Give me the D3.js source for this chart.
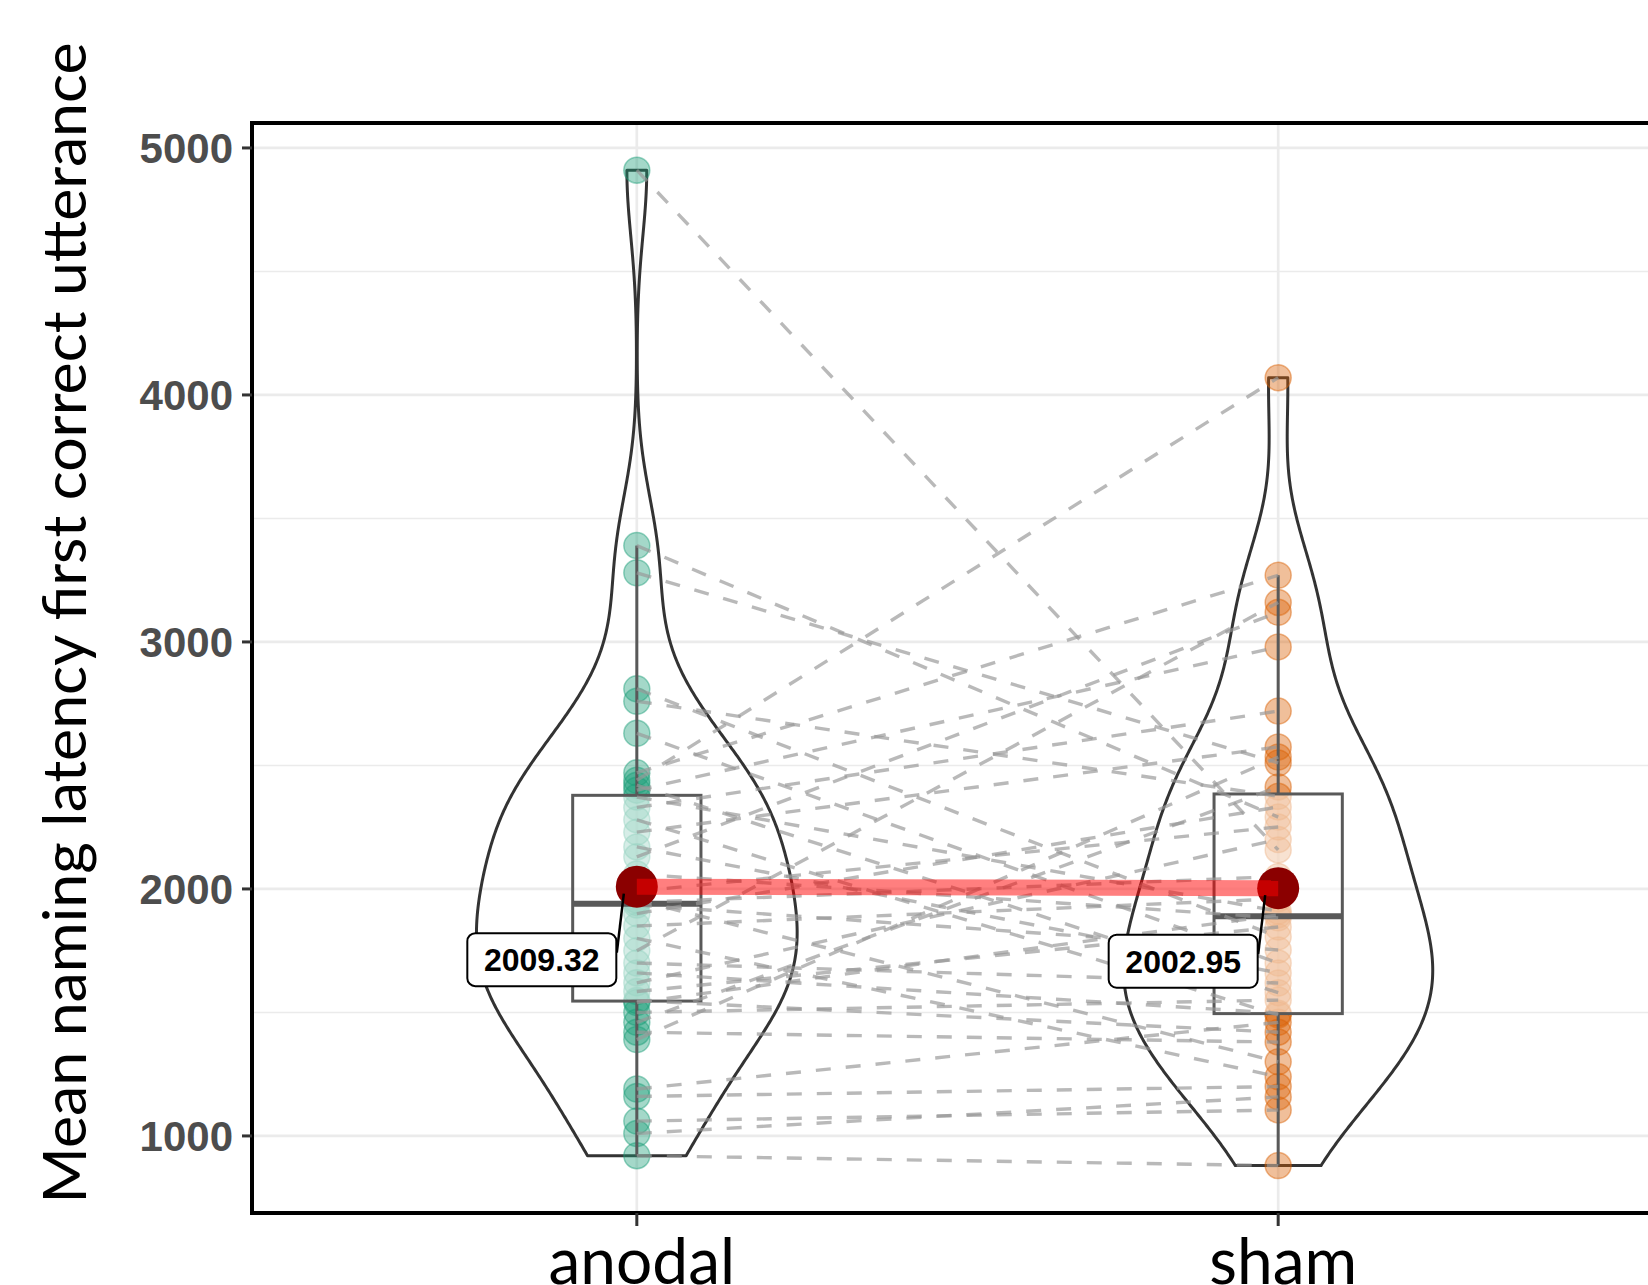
<!DOCTYPE html>
<html>
<head>
<meta charset="utf-8">
<script src="https://cdn.jsdelivr.net/npm/d3@7"></script>
<style>
  html, body { margin: 0; padding: 0; background: #fff; }
  svg { display: block; }
</style>
</head>
<body>
<svg id="chart" width="1648" height="1285"></svg>
<script>
// ---------------- data ----------------
const categories = ["anodal", "sham"];
// paired participants (same index = same participant)
const anodal = [4910, 3390, 3280, 2810, 2760, 2630, 2470, 2440, 2420, 2400,
                2372, 2330, 2280, 2230, 2170, 2130, 2060, 1990, 1955, 1945,
                1935, 1900, 1850, 1800, 1750, 1700, 1660, 1620, 1585, 1548,
                1540, 1500, 1460, 1420, 1390, 1190, 1160, 1060, 1010, 920];
const sham   = [2158, 2291, 2510, 1806, 2375, 1700, 3270, 4070, 1580, 2980,
                1910, 2720, 1490, 2575, 1660, 3120, 1883, 2251, 1300, 2050,
                1753, 2332, 1960, 1240, 3160, 1619, 1497, 2200, 1846, 1420,
                1895, 1550, 2413, 1380, 2534, 1460, 1200, 1105, 1158, 880];
const meanValues = [2009.32, 2002.95];
const meanLabels = ["2009.32", "2002.95"];
const yTicks = [1000, 2000, 3000, 4000, 5000];
const yTitle = "Mean naming latency first correct utterance";
const groupColors = ["#1b9e77", "#d95f02"];

// ---------------- layout ----------------
const svg = d3.select("#chart");
const panel = { left: 252, top: 123, right: 1663, bottom: 1213 };
const x = d3.scaleLinear().domain([0.4, 2.6]).range([panel.left, panel.right]);
const y = d3.scaleLinear().domain([688, 5101]).range([panel.bottom, panel.top]);
const groups = [anodal, sham];
const pos = [1, 2];

const defs = svg.append("defs");
defs.append("clipPath").attr("id", "clip")
  .append("rect").attr("x", panel.left).attr("y", panel.top)
  .attr("width", panel.right - panel.left).attr("height", panel.bottom - panel.top);

// grid
const grid = svg.append("g");
const minor = d3.pairs(yTicks).map(([a, b]) => (a + b) / 2);
grid.selectAll(".minor").data(minor).join("line")
  .attr("x1", panel.left).attr("x2", panel.right)
  .attr("y1", d => y(d)).attr("y2", d => y(d))
  .attr("stroke", "#ebebeb").attr("stroke-width", 1.4);
grid.selectAll(".major").data(yTicks).join("line")
  .attr("x1", panel.left).attr("x2", panel.right)
  .attr("y1", d => y(d)).attr("y2", d => y(d))
  .attr("stroke", "#ebebeb").attr("stroke-width", 2.7);
grid.selectAll(".vmajor").data(pos).join("line")
  .attr("x1", d => x(d)).attr("x2", d => x(d))
  .attr("y1", panel.top).attr("y2", panel.bottom)
  .attr("stroke", "#ebebeb").attr("stroke-width", 2.7);

const plot = svg.append("g").attr("clip-path", "url(#clip)");

// ---------------- violins ----------------
function bwNrd0(v) {
  const s = v.slice().sort(d3.ascending);
  const sd = d3.deviation(s);
  const iqr = d3.quantile(s, 0.75) - d3.quantile(s, 0.25);
  const lo = Math.min(sd, iqr / 1.34);
  return 0.9 * lo * Math.pow(s.length, -0.2);
}
function kde(v, n) {
  const bw = bwNrd0(v);
  const lo = d3.min(v), hi = d3.max(v);
  const out = [];
  for (let i = 0; i < n; i++) {
    const t = lo + (hi - lo) * i / (n - 1);
    let s = 0;
    for (const xi of v) { const z = (t - xi) / bw; s += Math.exp(-0.5 * z * z); }
    out.push([t, s / (v.length * bw * Math.sqrt(2 * Math.PI))]);
  }
  return out;
}
const dens = groups.map(g => kde(g, 512));
const maxDens = d3.max(dens, d => d3.max(d, e => e[1]));
const violinWidth = 0.5;
dens.forEach((d, i) => {
  const cx = pos[i];
  const left = d.map(([t, v]) => [x(cx - v / maxDens * violinWidth / 2), y(t)]);
  const right = d.map(([t, v]) => [x(cx + v / maxDens * violinWidth / 2), y(t)]).reverse();
  plot.append("path")
    .attr("d", d3.line()(left.concat(right)) + "Z")
    .attr("fill", "none").attr("stroke", "#333333").attr("stroke-width", 3)
    .attr("stroke-linejoin", "round");
});

// ---------------- points ----------------
groups.forEach((g, i) => {
  plot.append("g").selectAll("circle").data(g).join("circle")
    .attr("cx", x(pos[i])).attr("cy", d => y(d)).attr("r", 13)
    .attr("fill", groupColors[i]).attr("fill-opacity", 0.4)
    .attr("stroke", groupColors[i]).attr("stroke-opacity", 0.45).attr("stroke-width", 1.5);
});

// ---------------- boxplots ----------------
const boxHalf = 0.1;
groups.forEach((g, i) => {
  const s = g.slice().sort(d3.ascending);
  const q1 = d3.quantile(s, 0.25), med = d3.quantile(s, 0.5), q3 = d3.quantile(s, 0.75);
  const iqr = q3 - q1;
  const upper = d3.max(s.filter(v => v <= q3 + 1.5 * iqr));
  const lower = d3.min(s.filter(v => v >= q1 - 1.5 * iqr));
  const cx = pos[i];
  const b = plot.append("g");
  b.append("line").attr("x1", x(cx)).attr("x2", x(cx)).attr("y1", y(q3)).attr("y2", y(upper))
    .attr("stroke", "#595959").attr("stroke-width", 3);
  b.append("line").attr("x1", x(cx)).attr("x2", x(cx)).attr("y1", y(q1)).attr("y2", y(lower))
    .attr("stroke", "#595959").attr("stroke-width", 3);
  b.append("rect").attr("x", x(cx - boxHalf)).attr("y", y(q3))
    .attr("width", x(cx + boxHalf) - x(cx - boxHalf)).attr("height", y(q1) - y(q3))
    .attr("fill", "#ffffff").attr("fill-opacity", 0.55)
    .attr("stroke", "#595959").attr("stroke-width", 3);
  b.append("line").attr("x1", x(cx - boxHalf)).attr("x2", x(cx + boxHalf))
    .attr("y1", y(med)).attr("y2", y(med))
    .attr("stroke", "#595959").attr("stroke-width", 6);
});

// ---------------- paired dashed lines ----------------
plot.append("g").selectAll("line").data(d3.zip(anodal, sham)).join("line")
  .attr("x1", x(1)).attr("y1", d => y(d[0]))
  .attr("x2", x(2)).attr("y2", d => y(d[1]))
  .attr("stroke", "#989898").attr("stroke-opacity", 0.68)
  .attr("stroke-width", 3.4).attr("stroke-dasharray", "15,15");

// ---------------- means ----------------
plot.selectAll(".mean").data(meanValues).join("circle")
  .attr("cx", (d, i) => x(pos[i])).attr("cy", d => y(d)).attr("r", 21)
  .attr("fill", "#8b0000");
plot.append("line")
  .attr("x1", x(pos[0])).attr("y1", y(meanValues[0]))
  .attr("x2", x(pos[1])).attr("y2", y(meanValues[1]))
  .attr("stroke", "#ff0000").attr("stroke-opacity", 0.5).attr("stroke-width", 16);

// labels
meanValues.forEach((m, i) => {
  const cx = x(pos[i]), cy = y(m);
  const lx = cx - 95, ly = cy + 73;
  const w = 149, h = 53;
  svg.append("line")
    .attr("x1", cx - 20).attr("y1", cy + 66)
    .attr("x2", cx - 13).attr("y2", cy + 7)
    .attr("stroke", "#000").attr("stroke-width", 2.5);
  svg.append("rect").attr("x", lx - w / 2).attr("y", ly - h / 2)
    .attr("width", w).attr("height", h).attr("rx", 8)
    .attr("fill", "#fff").attr("stroke", "#000").attr("stroke-width", 2);
  svg.append("text").attr("x", lx).attr("y", ly).attr("dy", "0.36em")
    .attr("text-anchor", "middle")
    .attr("font-family", "'Liberation Sans', Arial, sans-serif")
    .attr("font-weight", "bold").attr("font-size", 32).attr("fill", "#000")
    .text(meanLabels[i]);
});

// ---------------- axes / border ----------------
svg.append("rect").attr("x", panel.left).attr("y", panel.top)
  .attr("width", panel.right - panel.left).attr("height", panel.bottom - panel.top)
  .attr("fill", "none").attr("stroke", "#000").attr("stroke-width", 4);

const yAxis = svg.append("g");
yAxis.selectAll("line").data(yTicks).join("line")
  .attr("x1", panel.left - 10).attr("x2", panel.left)
  .attr("y1", d => y(d)).attr("y2", d => y(d))
  .attr("stroke", "#333").attr("stroke-width", 3);
yAxis.selectAll("text").data(yTicks).join("text")
  .attr("x", 233).attr("y", d => y(d)).attr("dy", "0.36em")
  .attr("text-anchor", "end")
  .attr("font-family", "'Liberation Sans', Arial, sans-serif")
  .attr("font-weight", "bold").attr("font-size", 42).attr("fill", "#4d4d4d")
  .text(d => d);

const xAxis = svg.append("g");
xAxis.selectAll("line").data(pos).join("line")
  .attr("x1", d => x(d)).attr("x2", d => x(d))
  .attr("y1", panel.bottom).attr("y2", panel.bottom + 13)
  .attr("stroke", "#333").attr("stroke-width", 3);
xAxis.selectAll("text").data(categories).join("text")
  .attr("x", (d, i) => x(pos[i]) + 5).attr("y", 1284)
  .attr("text-anchor", "middle")
  .attr("font-family", "Lato, 'Open Sans', sans-serif")
  .attr("font-size", 64).attr("fill", "#000")
  .text(d => d);

svg.append("text")
  .attr("transform", "translate(86,623) rotate(-90)")
  .attr("text-anchor", "middle")
  .attr("font-family", "Lato, 'Open Sans', sans-serif")
  .attr("font-size", 60).attr("fill", "#000")
  .attr("textLength", 1161).attr("lengthAdjust", "spacingAndGlyphs")
  .text(yTitle);
</script>
</body>
</html>
